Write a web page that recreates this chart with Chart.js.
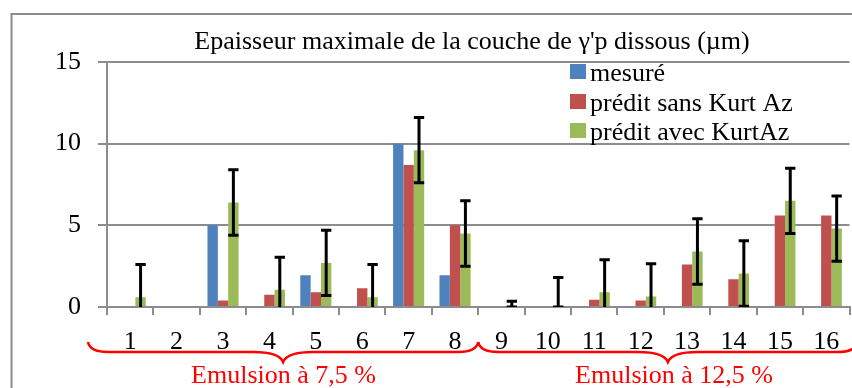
<!DOCTYPE html>
<html>
<head>
<meta charset="utf-8">
<script src="https://cdn.jsdelivr.net/npm/chart.js@4/dist/chart.umd.min.js"></script>
<style>
  html, body { margin: 0; padding: 0; background: #ffffff; }
  #wrap { width: 852px; height: 388px; position: relative; }
</style>
</head>
<body>
<div id="wrap"><canvas id="c" width="852" height="388"></canvas></div>
<script>
// Samples 1..16
const categories = ['1','2','3','4','5','6','7','8','9','10','11','12','13','14','15','16'];

// Maximum thickness of the dissolved γ'p layer (µm)
const mesure   = [0, 0, 5.0, 0, 1.95, 0, 10.0, 1.95, 0, 0, 0, 0, 0, 0, 0, 0];
const predSans = [0, 0, 0.4, 0.75, 0.9, 1.15, 8.7, 5.0, 0, 0, 0.45, 0.4, 2.6, 1.7, 5.6, 5.6];
const predAvec = [0.6, null, 6.4, 1.05, 2.7, 0.6, 9.6, 4.5, 0, 0, 0.9, 0.65, 3.4, 2.05, 6.5, 4.8];

// Error bars on the "avec KurtAz" prediction
const errPlus  = [2, null, 2, 2, 2, 2, 2, 2, 0.35, 1.8, 2, 2, 2, 2, 2, 2];
const errMinus = [2, null, 2, 2, 2, 2, 2, 2, 0, 0, 2, 2, 2, 2, 2, 2];

const seriesNames = ['mesuré', 'prédit sans Kurt Az', 'prédit avec KurtAz'];
const yTicks = [0, 5, 10, 15];

const titleText = "Epaisseur maximale de la couche de γ'p dissous (µm)";
const groupNames = ['Emulsion à 7,5 %', 'Emulsion à 12,5 %'];
const groupRanges = [[0, 7], [8, 15]];

const colors = ['#4f81bd', '#c0504d', '#9bbb59'];
const gray = '#8c8c8c';
const serif = "'Liberation Serif', 'Times New Roman', serif";

const decor = {
  id: 'decor',
  beforeDraw(chart) {
    const ctx = chart.ctx;
    ctx.save();
    ctx.fillStyle = '#ffffff';
    ctx.fillRect(0, 0, chart.width, chart.height);
    // outer frame
    ctx.strokeStyle = gray;
    ctx.lineWidth = 2;
    ctx.strokeRect(11.5, 14, 900, 500);
    ctx.restore();
  },
  afterDatasetsDraw(chart) {
    // error bars
    const ctx = chart.ctx;
    const area = chart.chartArea;
    const y = chart.scales.y;
    const meta = chart.getDatasetMeta(2);
    ctx.save();
    ctx.beginPath();
    ctx.rect(area.left, area.top - 20, area.right - area.left, area.bottom - area.top + 20);
    ctx.clip();
    ctx.strokeStyle = '#000000';
    ctx.lineWidth = 3;
    meta.data.forEach((bar, i) => {
      const v = predAvec[i];
      if (v === null || errPlus[i] === null) return;
      const x = bar.x;
      const half = bar.width / 2;
      const yt = y.getPixelForValue(v + errPlus[i]);
      const yb = y.getPixelForValue(v - errMinus[i]);
      ctx.beginPath();
      ctx.moveTo(x, yt); ctx.lineTo(x, yb);
      ctx.moveTo(x - half, yt); ctx.lineTo(x + half, yt);
      ctx.moveTo(x - half, yb); ctx.lineTo(x + half, yb);
      ctx.stroke();
    });
    ctx.restore();
  },
  afterDraw(chart) {
    const ctx = chart.ctx;
    const xs = chart.scales.x;
    ctx.save();
    // title
    ctx.fillStyle = '#000000';
    ctx.font = '26px ' + serif;
    ctx.textAlign = 'center';
    ctx.textBaseline = 'alphabetic';
    ctx.fillText(titleText, 472, 49);

    // legend
    ctx.textAlign = 'left';
    const baselines = [81, 111, 140];
    seriesNames.forEach((name, i) => {
      ctx.fillStyle = colors[i];
      ctx.fillRect(570, baselines[i] - 17, 16, 15);
      ctx.fillStyle = '#000000';
      ctx.fillText(name, 590, baselines[i]);
    });

    // group braces and names
    ctx.strokeStyle = '#ff0000';
    ctx.fillStyle = '#ff0000';
    ctx.lineWidth = 2.5;
    const half = (xs.getPixelForValue(1) - xs.getPixelForValue(0)) / 2;
    const yEnd = 342, yLine = 352, yTip = 362;
    groupRanges.forEach((r, gi) => {
      const x0 = xs.getPixelForValue(r[0]) - half - (gi === 0 ? 19 : 0);
      const x1 = xs.getPixelForValue(r[1]) + half + (gi === 0 ? 0 : 8);
      const xm = (x0 + x1) / 2;
      ctx.beginPath();
      ctx.moveTo(x0, yEnd);
      ctx.quadraticCurveTo(x0 + 2, yLine, x0 + 20, yLine);
      ctx.lineTo(xm - 30, yLine);
      ctx.quadraticCurveTo(xm - 4, yLine, xm, yTip);
      ctx.quadraticCurveTo(xm + 4, yLine, xm + 30, yLine);
      ctx.lineTo(x1 - 20, yLine);
      ctx.quadraticCurveTo(x1 - 2, yLine, x1, yEnd);
      ctx.stroke();
      ctx.textAlign = 'center';
      ctx.font = '26px ' + serif;
      ctx.fillText(groupNames[gi], gi === 0 ? 283.5 : 674, 383);
    });
    ctx.restore();
  }
};

new Chart(document.getElementById('c'), {
  type: 'bar',
  data: {
    labels: categories,
    datasets: [
      { label: seriesNames[0], data: mesure,   backgroundColor: colors[0] },
      { label: seriesNames[1], data: predSans, backgroundColor: colors[1] },
      { label: seriesNames[2], data: predAvec, backgroundColor: colors[2] }
    ]
  },
  options: {
    responsive: false,
    animation: false,
    devicePixelRatio: 1,
    layout: { padding: { top: 62, left: 0, right: 2.5, bottom: 0 } },
    datasets: { bar: { categoryPercentage: 0.67, barPercentage: 1.0 } },
    plugins: {
      legend: { display: false },
      title: { display: false },
      tooltip: { enabled: false }
    },
    scales: {
      x: {
        afterFit(scale) { scale.height = 81; },
        grid: {
          offset: true,
          drawOnChartArea: false,
          drawTicks: true,
          tickLength: 8,
          color: gray,
          lineWidth: 2
        },
        border: { display: true, color: gray, width: 2 },
        ticks: {
          color: '#000000',
          font: { family: serif, size: 26 },
          padding: 12,
          maxRotation: 0,
          autoSkip: false
        }
      },
      y: {
        min: 0,
        max: 15,
        afterFit(scale) { scale.width = 107; },
        afterBuildTicks(scale) { scale.ticks = yTicks.map(v => ({ value: v })); },
        grid: { color: gray, lineWidth: 2, tickLength: 9 },
        border: { display: true, color: gray, width: 2 },
        ticks: {
          color: '#000000',
          font: { family: serif, size: 26 },
          padding: 17
        }
      }
    }
  },
  plugins: [decor]
});
</script>
</body>
</html>
